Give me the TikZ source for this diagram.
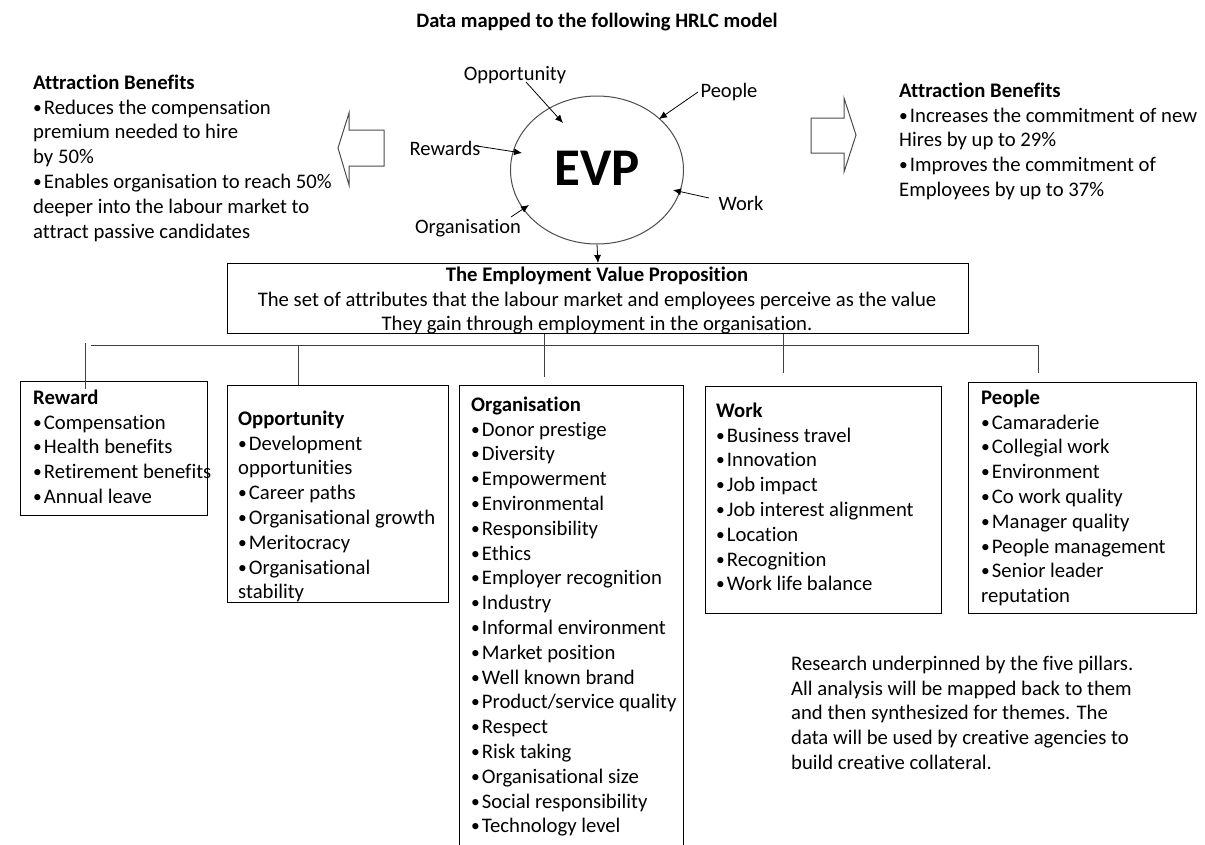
\documentclass[tikz,border=0pt]{standalone}
\usepackage{fontspec}
\setmainfont{Carlito}[Ligatures=NoCommon]
\usetikzlibrary{shapes.geometric,arrows.meta}
\newcommand\bul{\raisebox{1pt}{\fontsize{17.5}{17.5}\selectfont •}\kern2pt}
\begin{document}
\begin{tikzpicture}[x=1pt,y=-1pt,
  txt/.style={font=\fontsize{20.7}{24.8}\selectfont, align=left, inner sep=0pt, anchor=north west},
  box/.style={draw=black, line width=1pt, anchor=north west, inner sep=0pt},
  conn/.style={draw=black!75, line width=1pt},
  arr/.style={-{Latex[length=8pt,width=7pt]}, line width=0.8pt, draw=black},
  lab/.style={font=\fontsize{20.5}{22}\selectfont, inner sep=1pt},
  hollow/.style={draw=black!70, line width=1pt, line join=miter}]
\useasboundingbox (0,0) rectangle (1205,844);
\fill[white] (0,0) rectangle (1205,844);

% title
\node[font=\fontsize{20.5}{22}\selectfont\bfseries, inner sep=0pt] (title) at (597,22) {Data mapped to the following HRLC model};

% EVP ellipse
\node[ellipse, draw=black!70, line width=1pt, minimum width=173pt, minimum height=148pt, inner sep=0pt] (evp) at (597,170) {};
\node[font=\fontsize{53}{56}\selectfont\bfseries, inner sep=0pt] (evptxt) at (597,168) {EVP};

% labels around
\node[lab] (lopp) at (515,75) {Opportunity};
\node[lab] (lpeo) at (729,92) {People};
\node[lab] (lrew) at (445,148) {Rewards};
\node[lab] (lwork) at (741,203) {Work};
\node[lab] (lorg) at (468,228) {Organisation};
\coordinate (oS) at (526,82);  \coordinate (oT) at (563,123);
\coordinate (pS) at (698,92);  \coordinate (pT) at (659,119);
\coordinate (rS) at (477,146); \coordinate (rT) at (522,153);
\coordinate (wS) at (709,198); \coordinate (wT) at (673,190);
\coordinate (gS) at (511,217); \coordinate (gT) at (529,205);
\draw[arr] (oS) -- (oT);
\draw[arr] (pS) -- (pT);
\draw[arr] (rS) -- (rT);
\draw[arr] (wS) -- (wT);
\draw[arr] (gS) -- (gT);

% hollow arrows
\draw[hollow] (384,130) -- (349,130) -- (349,113) -- (338,148) -- (349,185) -- (349,166) -- (384,166) -- cycle;
\draw[hollow] (811,118) -- (844,118) -- (844,98) -- (856,135) -- (844,172) -- (844,153) -- (811,153) -- cycle;

% attraction benefits texts
\node[txt] (attL) at (33,73) {\rule{0pt}{16pt}\textbf{Attraction Benefits}\\
\bul Reduces the compensation\\premium needed to hire\\by 50\%\\
\bul Enables organisation to reach 50\%\\deeper into the labour market to\\attract passive candidates};
\node[txt] (attR) at (899,81) {\rule{0pt}{16pt}\textbf{Attraction Benefits}\\
\bul Increases the commitment of new\\Hires by up to 29\%\\
\bul Improves the commitment of\\Employees by up to 37\%};

% value proposition box
\node[box, minimum width=741pt, minimum height=70pt] (vp) at (227,263) {};
\node[txt, anchor=north, align=center] (vptxt) at (597,265) {\rule{0pt}{16pt}\textbf{The Employment Value Proposition}\\
The set of attributes that the labour market and employees perceive as the value\\
They gain through employment in the organisation.};
\draw[arr] (evp.south) -- (vp.north);

% pillar boxes
\node[box, minimum width=187pt, minimum height=134pt] (rew) at (20,381) {};
\node[box, minimum width=221pt, minimum height=217pt] (opp) at (227,385) {};
\begin{scope}
\clip (0,0) rectangle (1205,844);
\node[box, minimum width=224pt, minimum height=520pt] (org) at (459,385) {};
\end{scope}
\node[box, minimum width=236pt, minimum height=227pt] (work) at (705,386) {};
\node[box, minimum width=228pt, minimum height=231pt] (peo) at (968,382) {};

% connectors
\coordinate (busL) at (91,345); \coordinate (busR) at (1038,345);
\coordinate (jRewT) at (85,343); \coordinate (jRewB) at (85,389);
\coordinate (jOpp) at (298,345);
\coordinate (jOrg) at (544,377);
\coordinate (jWork) at (783,373);
\coordinate (jPeo) at (1038,373);
\draw[conn] (busL) -- (busR);
\draw[conn] (jRewT) -- (jRewB);
\draw[conn] (jOpp) -- (jOpp |- opp.north);
\draw[conn] (vp.south -| jOrg) -- (jOrg);
\draw[conn] (vp.south -| jWork) -- (jWork);
\draw[conn] (busR) -- (jPeo);

% pillar texts
\node[txt] (rewtxt) at (33,388) {\rule{0pt}{16pt}\textbf{Reward}\\\bul Compensation\\\bul Health benefits\\\bul Retirement benefits\\\bul Annual leave};
\node[txt] (opptxt) at (238,409) {\rule{0pt}{16pt}\textbf{Opportunity}\\\bul Development\\opportunities\\\bul Career paths\\\bul Organisational growth\\\bul Meritocracy\\\bul Organisational\\stability};
\node[txt] (orgtxt) at (471,395) {\rule{0pt}{16pt}\textbf{Organisation}\\\bul Donor prestige\\\bul Diversity\\\bul Empowerment\\\bul Environmental\\\bul Responsibility\\\bul Ethics\\\bul Employer recognition\\\bul Industry\\\bul Informal environment\\\bul Market position\\\bul Well known brand\\\bul Product/service quality\\\bul Respect\\\bul Risk taking\\\bul Organisational size\\\bul Social responsibility\\\bul Technology level};
\node[txt] (worktxt) at (716,401) {\rule{0pt}{16pt}\textbf{Work}\\\bul Business travel\\\bul Innovation\\\bul Job impact\\\bul Job interest alignment\\\bul Location\\\bul Recognition\\\bul Work life balance};
\node[txt] (peotxt) at (981,388) {\rule{0pt}{16pt}\textbf{People}\\\bul Camaraderie\\\bul Collegial work\\\bul Environment\\\bul Co work quality\\\bul Manager quality\\\bul People management\\\bul Senior leader\\reputation};

% research note
\node[txt] (note) at (791,654) {\rule{0pt}{16pt}Research underpinned by the five pillars.\\All analysis will be mapped back to them\\and then synthesized for themes. The\\data will be used by creative agencies to\\build creative collateral.};
\end{tikzpicture}
\end{document}
